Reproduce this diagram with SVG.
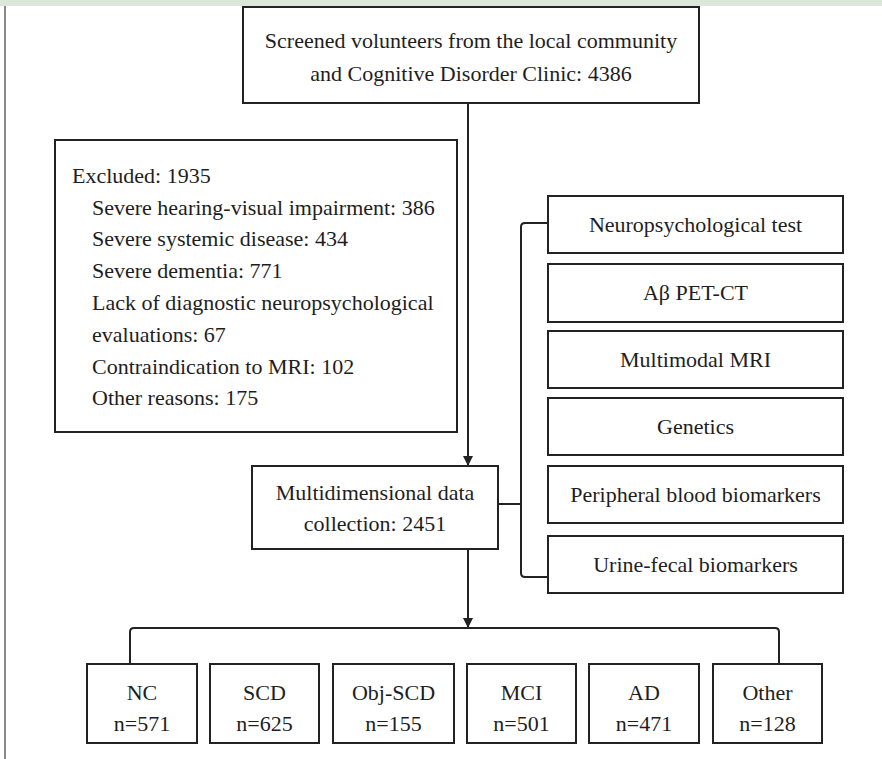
<svg xmlns="http://www.w3.org/2000/svg" width="882" height="759" viewBox="0 0 882 759">
<defs>
<marker id="arr" viewBox="0 0 10 10" refX="10" refY="5" markerWidth="5" markerHeight="5" markerUnits="strokeWidth" orient="auto">
<path d="M0,0 L10,5 L0,10 z" fill="#222"/>
</marker>
<style>
.box{fill:#fff;stroke:#222;stroke-width:2}
text{font-family:'Liberation Serif','DejaVu Serif','Times New Roman',serif;font-size:22px;fill:#1e1e1e}
.c{text-anchor:middle}
.ln{fill:none;stroke:#222;stroke-width:2}
</style>
</defs>
<rect x="0" y="0" width="882" height="759" fill="#fff"/>
<rect x="0" y="0" width="882" height="6" fill="#d9e8d7"/>
<line x1="5" y1="6" x2="5" y2="759" stroke="#8a8a8a" stroke-width="2"/>

<g id="connectors">
<line class="ln" x1="468" y1="103" x2="468" y2="466" marker-end="url(#arr)"/>
<line class="ln" x1="468" y1="549" x2="468" y2="628" marker-end="url(#arr)"/>
<path class="ln" d="M130,664 V632 Q130,628 134,628 H775 Q779,628 779,632 V664"/>
<path class="ln" d="M548,223 H525 Q521,223 521,227 V573 Q521,577 525,577 H548"/>
<line class="ln" x1="498" y1="504" x2="521" y2="504"/>
</g>

<g font-family="Liberation Serif, DejaVu Serif, serif" font-size="22">
<g id="screened">
<rect class="box" x="243" y="7" width="456" height="96"/>
<text class="c" x="471" y="48">Screened volunteers from the local community</text>
<text class="c" x="471" y="81">and Cognitive Disorder Clinic: 4386</text>
</g>

<g id="excluded">
<rect class="box" x="55" y="140" width="402" height="292"/>
<text x="72" y="183">Excluded: 1935</text>
<text x="92" y="215">Severe hearing-visual impairment: 386</text>
<text x="92" y="246">Severe systemic disease: 434</text>
<text x="92" y="278">Severe dementia: 771</text>
<text x="92" y="310">Lack of diagnostic neuropsychological</text>
<text x="92" y="342">evaluations: 67</text>
<text x="92" y="374">Contraindication to MRI: 102</text>
<text x="92" y="405">Other reasons: 175</text>
</g>

<g id="multidimensional">
<rect class="box" x="252" y="466" width="246" height="83"/>
<text class="c" x="375" y="500">Multidimensional data</text>
<text class="c" x="375" y="531">collection: 2451</text>
</g>

<g id="neuropsych">
<rect class="box" x="548" y="196" width="295" height="57"/>
<text class="c" x="695.5" y="232">Neuropsychological test</text>
</g>
<g id="pet">
<rect class="box" x="548" y="264" width="295" height="58"/>
<text class="c" x="695.5" y="300">Aβ PET-CT</text>
</g>
<g id="mri">
<rect class="box" x="548" y="331" width="295" height="57"/>
<text class="c" x="695.5" y="367">Multimodal MRI</text>
</g>
<g id="genetics">
<rect class="box" x="548" y="398" width="295" height="57"/>
<text class="c" x="695.5" y="434">Genetics</text>
</g>
<g id="blood">
<rect class="box" x="548" y="466" width="295" height="57"/>
<text class="c" x="695.5" y="502">Peripheral blood biomarkers</text>
</g>
<g id="urine">
<rect class="box" x="548" y="536" width="295" height="57"/>
<text class="c" x="695.5" y="572">Urine-fecal biomarkers</text>
</g>

<g id="nc">
<rect class="box" x="87" y="664" width="110" height="79"/>
<text class="c" x="142" y="700">NC</text>
<text class="c" x="142" y="731">n=571</text>
</g>
<g id="scd">
<rect class="box" x="210" y="664" width="109" height="79"/>
<text class="c" x="264.5" y="700">SCD</text>
<text class="c" x="264.5" y="731">n=625</text>
</g>
<g id="objscd">
<rect class="box" x="333" y="664" width="121" height="79"/>
<text class="c" x="393.5" y="700">Obj-SCD</text>
<text class="c" x="393.5" y="731">n=155</text>
</g>
<g id="mci">
<rect class="box" x="467" y="664" width="109" height="79"/>
<text class="c" x="521.5" y="700">MCI</text>
<text class="c" x="521.5" y="731">n=501</text>
</g>
<g id="ad">
<rect class="box" x="589" y="664" width="110" height="79"/>
<text class="c" x="644" y="700">AD</text>
<text class="c" x="644" y="731">n=471</text>
</g>
<g id="other">
<rect class="box" x="713" y="664" width="109" height="79"/>
<text class="c" x="767.5" y="700">Other</text>
<text class="c" x="767.5" y="731">n=128</text>
</g>
</g>
</svg>
